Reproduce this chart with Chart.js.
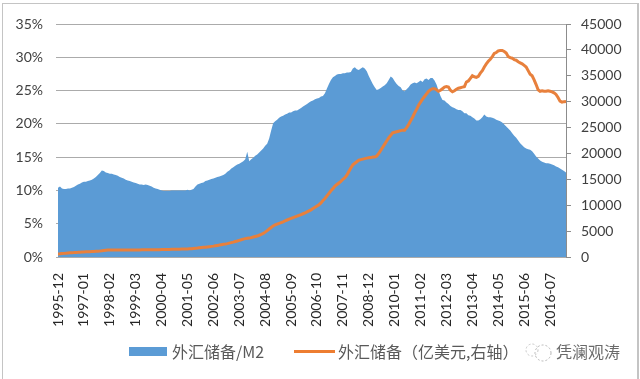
<!DOCTYPE html>
<html>
<head>
<meta charset="utf-8">
<script src="https://cdn.jsdelivr.net/npm/chart.js@4"></script>
<style>
  html, body { margin: 0; padding: 0; background: #fff; overflow: hidden; }
  #wrap { position: relative; width: 640px; height: 379px; overflow: hidden; }
  #frame { position: absolute; left: 2px; top: 3px; width: 634px; height: 380px; border: 1px solid #c4c4c4; border-width: 1px 2px 1px 1px; }
  canvas { position: absolute; left: 0; top: 0; }
  .leg { position: absolute; font: 16px "Noto Sans CJK SC", sans-serif; color: #595959; white-space: nowrap; line-height: 20px; }
  .swatch { position: absolute; }
</style>
</head>
<body>
<div id="wrap">
  <div id="frame"></div>
  <canvas id="reserveChart" width="640" height="379"></canvas>
  <div class="swatch" style="left:129px;top:347px;width:38px;height:9px;background:#5b9bd5"></div>
  <div class="leg" style="left:172px;top:341px">外汇储备/M2</div>
  <div class="swatch" style="left:294px;top:350px;width:41px;height:3px;background:#ed7d31"></div>
  <div class="leg" style="left:338px;top:341px">外汇储备（亿美元,右轴）</div>
  <svg style="position:absolute;left:521px;top:341px" width="40" height="24">
    <circle cx="22" cy="12" r="8" fill="none" stroke="#b5b5b5" stroke-width="1" stroke-dasharray="2 2"/>
    <circle cx="11" cy="9" r="6" fill="none" stroke="#c4c4c4" stroke-width="1" stroke-dasharray="2 2"/>
  </svg>
  <div class="leg" style="left:556px;top:341px;color:#6a6a6a">凭澜观涛</div>
</div>
<script>
// Monthly, 1995-12 to 2017-03
const categories = ['1995-12'];
for (let y = 1996; y <= 2017; y++) {
  const lastMonth = y === 2017 ? 3 : 12;
  for (let m = 1; m <= lastMonth; m++) {
    categories.push(y + '-' + String(m).padStart(2, '0'));
  }
}

// Left axis, percent
const reserveToM2 = [
  10.4,
  10.6,10.3,10.2,10.2,10.3,10.3,10.4,10.5,10.7,10.9,11.0,11.2,
  11.3,11.3,11.4,11.5,11.6,11.8,12.0,12.3,12.6,13.0,12.9,12.7,
  12.6,12.5,12.5,12.4,12.3,12.2,12.0,11.9,11.8,11.6,11.5,11.4,
  11.3,11.2,11.1,11.0,10.9,10.9,10.8,10.9,10.8,10.7,10.6,10.4,
  10.3,10.2,10.1,10.0,9.9,9.9,9.9,9.9,10.0,10.0,10.0,10.0,
  10.0,10.0,10.0,10.0,10.1,10.0,10.1,10.2,10.6,10.9,11.0,11.1,
  11.2,11.4,11.5,11.6,11.7,11.8,11.9,12.0,12.1,12.2,12.3,12.5,
  12.8,13.0,13.3,13.5,13.7,13.9,14.0,14.2,14.4,14.7,15.8,14.4,
  14.7,14.9,15.2,15.4,15.7,16.0,16.3,16.7,17.0,17.8,19.0,20.1,
  20.4,20.6,20.9,21.1,21.2,21.4,21.5,21.7,21.7,21.9,22.0,22.0,
  22.2,22.4,22.6,22.8,23.0,23.2,23.4,23.5,23.7,23.8,23.9,24.1,
  24.2,24.6,25.3,26.0,26.6,27.0,27.2,27.4,27.5,27.5,27.6,27.6,
  27.7,27.7,27.8,28.3,28.5,28.2,28.1,28.3,28.5,28.3,27.9,27.2,
  26.6,26.0,25.5,25.1,25.2,25.4,25.6,25.8,26.1,26.6,27.1,26.9,
  26.4,26.0,25.7,25.5,25.0,24.9,25.2,25.5,25.9,26.1,26.2,26.1,
  26.3,26.5,26.3,26.7,26.8,26.6,26.9,26.9,26.5,25.9,25.0,24.2,
  23.6,23.5,23.2,23.0,22.7,22.5,22.4,22.2,22.1,22.1,21.9,21.6,
  21.6,21.3,21.2,21.0,20.8,20.5,20.5,20.7,21.0,21.4,21.1,21.0,
  21.0,20.9,20.8,20.6,20.5,20.4,20.2,19.9,19.6,19.3,19.0,18.6,
  18.2,17.9,17.5,17.1,16.8,16.5,16.3,16.2,16.1,15.9,15.5,15.1,
  14.8,14.5,14.3,14.2,14.1,14.1,14.0,13.9,13.8,13.6,13.5,13.3,
  13.1,12.9,12.7
];

// Right axis, 100 million USD
const reserves = [
  600,
  620,660,700,740,770,800,830,850,880,900,930,960,
  980,1000,1010,1020,1040,1060,1090,1120,1150,1190,1250,1300,
  1340,1350,1350,1350,1350,1350,1350,1350,1350,1350,1360,1360,
  1360,1360,1370,1370,1370,1380,1380,1380,1390,1390,1400,1400,
  1400,1410,1420,1430,1440,1450,1460,1470,1480,1490,1500,1510,
  1520,1530,1540,1550,1560,1580,1600,1650,1700,1740,1790,1830,
  1870,1900,1950,2000,2050,2100,2170,2240,2300,2380,2450,2500,
  2580,2680,2780,2870,3000,3100,3220,3340,3450,3550,3600,3650,
  3750,3850,3950,4050,4200,4350,4550,4800,5100,5400,5700,6000,
  6200,6350,6500,6650,6800,7000,7150,7300,7450,7600,7750,7900,
  8050,8200,8350,8500,8700,8900,9100,9350,9600,9850,10100,10450,
  10900,11300,11800,12300,12800,13200,13700,14000,14300,14600,15000,15300,
  15800,16500,17200,17800,18100,18400,18700,18800,18900,19000,19100,19150,
  19200,19300,19300,19500,20000,20600,21200,21800,22400,23000,23500,24000,
  24100,24200,24300,24400,24500,24500,25000,25600,26300,27000,27800,28500,
  29300,29900,30500,31000,31500,32000,32300,32500,32500,32300,32000,32200,
  32500,32800,32900,32800,32200,31900,32100,32400,32600,32700,32800,32900,
  33800,34000,34500,35000,34800,34700,34900,35500,36000,36700,37300,37800,
  38200,38700,39300,39500,39800,39900,39900,39700,39400,38700,38500,38400,
  38100,38000,37700,37500,37300,37000,36700,36000,35300,35000,34200,33300,
  32300,32000,32100,32000,32000,32100,32000,31900,31700,31400,30800,30100,
  29900,30000,30050
];

const labelStep = 13; // one x label every 13 months
const tickFont = { family: 'Lato, sans-serif', size: 14 };

new Chart(document.getElementById('reserveChart').getContext('2d'), {
  type: 'line',
  data: {
    labels: categories,
    datasets: [
      {
        label: '外汇储备（亿美元,右轴）',
        data: reserves,
        yAxisID: 'y1',
        borderColor: '#e8803c',
        borderWidth: 3,
        pointRadius: 0,
        fill: false,
        order: 0
      },
      {
        label: '外汇储备/M2',
        data: reserveToM2,
        yAxisID: 'y',
        borderWidth: 0,
        backgroundColor: '#5b9bd5',
        pointRadius: 0,
        fill: 'origin',
        order: 1
      }
    ]
  },
  options: {
    responsive: false,
    animation: false,
    layout: { padding: { top: 24, left: 0, right: 0, bottom: 0 } },
    plugins: { legend: { display: false }, title: { display: false }, tooltip: { enabled: false } },
    scales: {
      x: {
        offset: false,
        grid: { display: false },
        border: { display: false },
        afterFit: (scale) => { scale.height = 122; },
        ticks: {
          autoSkip: false,
          minRotation: 90,
          maxRotation: 90,
          padding: 8,
          color: '#262626',
          font: { family: 'Lato, sans-serif', size: 14 },
          callback: function (value, index) {
            return index % labelStep === 0 ? this.getLabelForValue(value) : '';
          }
        }
      },
      y: {
        position: 'left',
        min: 0,
        max: 35,
        afterFit: (scale) => { scale.width = 58; },
        border: { display: false },
        grid: { color: '#ababab', lineWidth: 1, tickLength: 2 },
        ticks: {
          stepSize: 5,
          padding: 13,
          color: '#404040',
          font: tickFont,
          callback: (value) => value + '%'
        }
      },
      y1: {
        position: 'right',
        min: 0,
        max: 45000,
        afterFit: (scale) => { scale.width = 74; },
        border: { display: true, color: '#8c8c8c', width: 1 },
        grid: { drawOnChartArea: false, color: '#8c8c8c', tickLength: 5 },
        ticks: {
          stepSize: 5000,
          padding: 10,
          color: '#404040',
          font: tickFont,
          callback: (value) => String(value)
        }
      }
    }
  }
});
</script>
</body>
</html>
